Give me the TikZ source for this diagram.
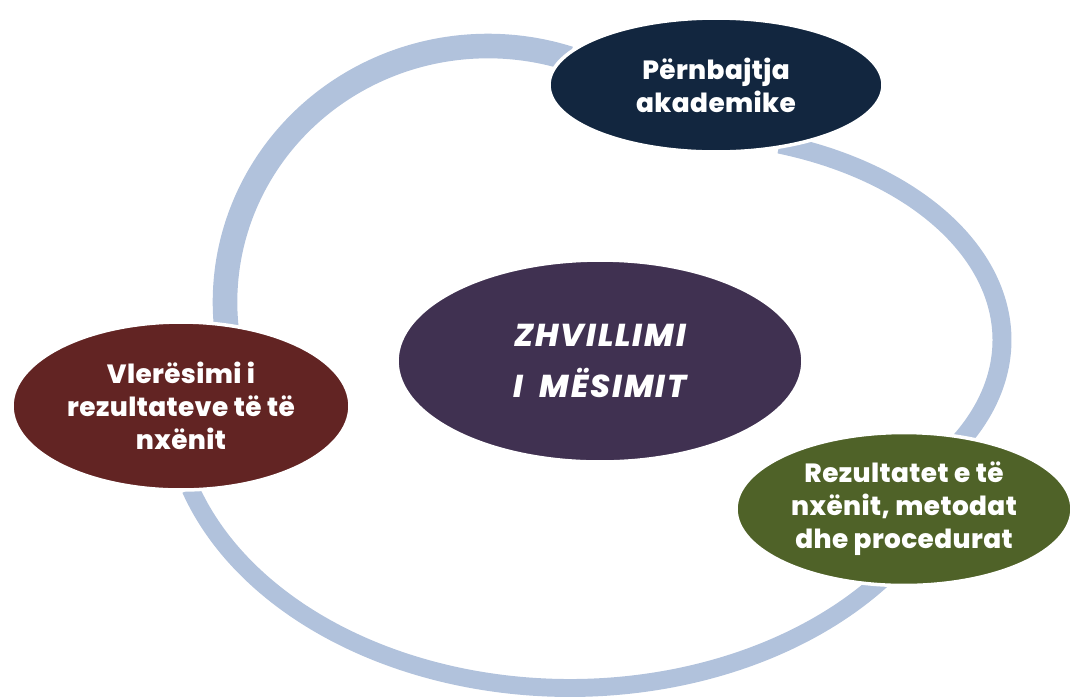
\documentclass[tikz,border=0pt]{standalone}
\usepackage{fontspec}
\setmainfont{Poppins}[LetterSpace=1.5, BoldFont={Poppins ExtraBold}, BoldItalicFont={Poppins ExtraBold Italic}]
\newfontfamily\titlefont{Poppins}[LetterSpace=6, BoldItalicFont={Poppins ExtraBold Italic}]
\usetikzlibrary{shapes.geometric}
\definecolor{ringblue}{HTML}{B1C2DC}
\definecolor{navy}{HTML}{12263F}
\definecolor{plum}{HTML}{403151}
\definecolor{maroon}{HTML}{622423}
\definecolor{olive}{HTML}{4F6228}
\tikzset{
  blob/.style={ellipse, draw=white, line width=2pt, inner sep=0pt, text=white,
    align=center, font=\bfseries\fontsize{15pt}{18.8pt}\selectfont},
  ring/.style={draw=ringblue, line cap=butt}
}
\begin{document}
\begin{tikzpicture}[x=0.02cm, y=-0.02cm]
\useasboundingbox (0,0) rectangle (1082,698);
% arc from left node to top node
\draw[ring, line width=14pt] plot[domain=188:72, samples=80, smooth]
  ({488+263*cos(\x)}, {302-256*sin(\x)});
% arc from top node to right node
\draw[ring, line width=10.8pt] plot[domain=72:-32, samples=80, smooth]
  ({680+322*cos(\x)}, {340-206*sin(\x)});
% arc from right node to left node
\draw[ring, line width=10.2pt] plot[domain=-38:-162, samples=80, smooth]
  ({570+399*cos(\x)}, {400-288*sin(\x)});
\node[blob, fill=navy, minimum width=6.68cm, minimum height=2.68cm] (top) at (716,85)
  {Përnbajtja\\akademike};
\node[blob, fill=plum, minimum width=8.12cm, minimum height=4.04cm,
  font=\titlefont\bfseries\itshape\fontsize{18pt}{29.5pt}\selectfont] (mid) at (600,361)
  {ZHVILLIMI\\I\ \ MËSIMIT};
\node[blob, fill=maroon, minimum width=6.76cm, minimum height=3.36cm] (left) at (181,406)
  {Vlerësimi i\\rezultateve të të\\nxënit};
\node[blob, fill=olive, minimum width=6.72cm, minimum height=3.06cm] (right) at (904,509)
  {Rezultatet e të\\nxënit, metodat\\dhe procedurat};
\end{tikzpicture}
\end{document}
